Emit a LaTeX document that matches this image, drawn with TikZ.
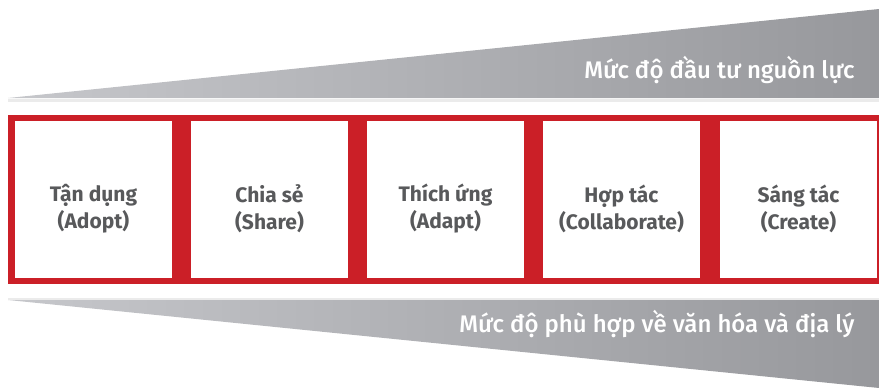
\documentclass[tikz,border=0pt]{standalone}
\usepackage{fontspec}
\setmainfont{Fira Sans}
\newfontfamily\labelfont{Fira Sans Medium}
\definecolor{redband}{HTML}{CB1F27}
\definecolor{wedgelight}{HTML}{C6C7CB}
\definecolor{wedgedark}{HTML}{97989C}
\definecolor{boxtext}{HTML}{58595B}
\tikzset{
  stagebox/.style={draw=none, fill=white, minimum width=157pt, minimum height=157pt, inner sep=0pt},
  stagetext/.style={text=boxtext, align=center, font=\fontsize{21}{27}\selectfont\bfseries},
  wedgelabel/.style={text=white, anchor=base east, font=\fontsize{24}{28}\selectfont\labelfont},
}
\begin{document}
\begin{tikzpicture}[x=1pt,y=-1pt]
\useasboundingbox (0,0) rectangle (879,388);
% top wedge
\fill[black!8] (8,99) -- (879,99) -- (879,101.5) -- (8,101.5) -- cycle;
\shade[left color=wedgelight, right color=wedgedark] (8,98) -- (879,9) -- (879,98) -- cycle;
\node[wedgelabel] (toplabel) at (858,78) {Mức độ đầu tư nguồn lực};
% red band
\fill[redband] (8,115) rectangle (879,284);
\foreach \i/\cx in {1/93.5,2/269.5,3/445.5,4/621.5,5/798.5}{
  \node[stagebox] (b\i) at (\cx,199.5) {};
}
\node[stagetext] (t1) at ([yshift=-9pt]b1.center) {Tận dụng\\(Adopt)};
\node[stagetext] (t2) at ([yshift=-9pt]b2.center) {Chia sẻ\\(Share)};
\node[stagetext] (t3) at ([yshift=-9pt]b3.center) {Thích ứng\\(Adapt)};
\node[stagetext] (t4) at ([yshift=-9pt]b4.center) {Hợp tác\\(Collaborate)};
\node[stagetext] (t5) at ([yshift=-9pt]b5.center) {Sáng tác\\(Create)};
% bottom wedge
\fill[black!8] (8,297.5) -- (879,297.5) -- (879,300) -- (8,300) -- cycle;
\shade[left color=wedgelight, right color=wedgedark] (8,300) -- (879,300) -- (879,388) -- cycle;
\node[wedgelabel] (botlabel) at (858,332) {Mức độ phù hợp về văn hóa và địa lý};
\end{tikzpicture}
\end{document}
